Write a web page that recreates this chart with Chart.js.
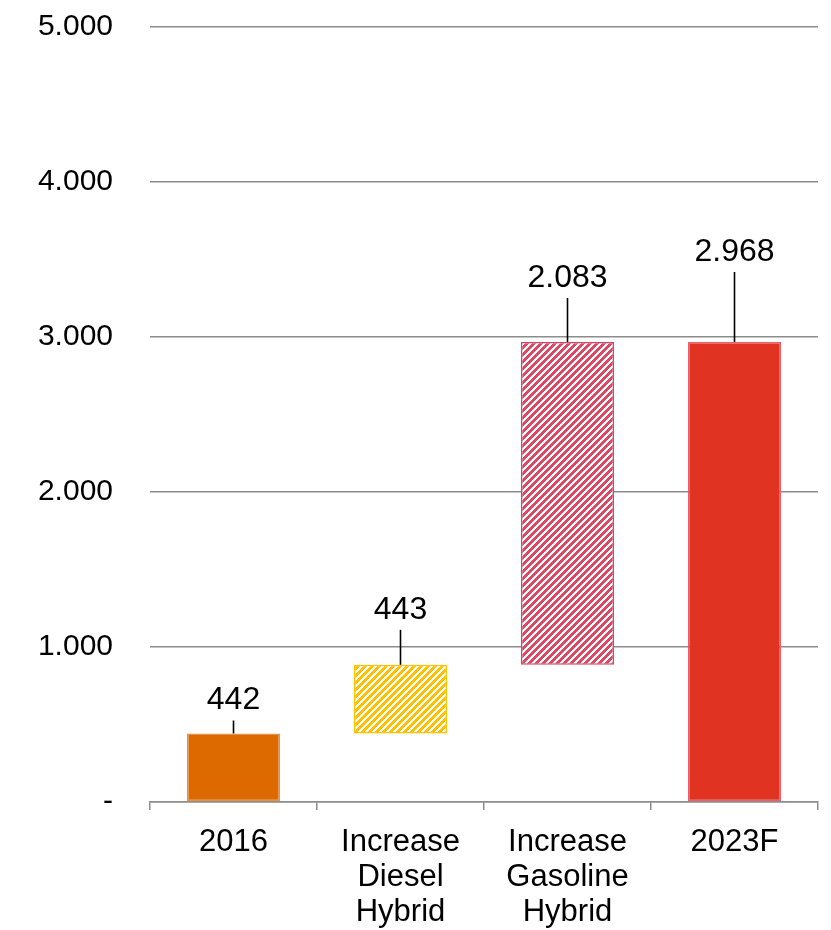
<!DOCTYPE html>
<html>
<head>
<meta charset="utf-8">
<script src="https://cdn.jsdelivr.net/npm/chart.js@4/dist/chart.umd.min.js"></script>
<style>
  html, body { margin: 0; padding: 0; background: #fff; }
  #wrap { width: 831px; height: 930px; position: relative; }
</style>
</head>
<body>
<div id="wrap"><canvas id="chart"></canvas></div>
<script>
// Waterfall: 2016 volume, two increases, 2023 forecast
const categories = [['2016'], ['Increase', 'Diesel', 'Hybrid'], ['Increase', 'Gasoline', 'Hybrid'], ['2023F']];
const values = [442, 443, 2083, 2968];
const barKinds = ['total', 'step', 'step', 'total'];
const yTicks = [0, 1000, 2000, 3000, 4000, 5000];

// Leader line length above each bar (px)
const leaderLengths = [13, 35, 44, 70];

function fmt(n) {
  return String(Math.round(n)).replace(/\B(?=(\d{3})+(?!\d))/g, '.');
}

// Floating ranges: totals start at zero, steps start at the running total
const ranges = [];
let running = 0;
values.forEach((v, i) => {
  if (barKinds[i] === 'total') {
    ranges.push([0, v]);
    running = v;
  } else {
    ranges.push([running, running + v]);
    running += v;
  }
});

function hatch(color) {
  const size = 7;
  const c = document.createElement('canvas');
  c.width = size; c.height = size;
  const g = c.getContext('2d');
  g.fillStyle = '#ffffff';
  g.fillRect(0, 0, size, size);
  g.fillStyle = color;
  for (let y = 0; y < size; y++) {
    for (let k = 0; k < 4; k++) {
      const x = ((size - y + k) % size + size) % size;
      g.fillRect(x, y, 1, 1);
    }
  }
  return g.createPattern(c, 'repeat');
}

const fills = ['#DD6A00', hatch('#FFC000'), hatch('#DE4862'), '#E03322'];
const borders = ['#E8914A', '#FFC000', '#D84560', '#E8606A'];

const FONT = '"Liberation Sans", Arial, sans-serif';
Chart.defaults.font.family = FONT;
Chart.defaults.font.size = 31;
Chart.defaults.color = '#000';

const valueLabels = {
  id: 'valueLabels',
  afterDatasetsDraw(chart) {
    const ctx = chart.ctx;
    const meta = chart.getDatasetMeta(0);
    ctx.save();
    meta.data.forEach((bar, i) => {
      const top = Math.min(bar.y, bar.base);
      const len = leaderLengths[i];
      ctx.strokeStyle = '#000';
      ctx.lineWidth = 1.6;
      ctx.beginPath();
      ctx.moveTo(bar.x, top);
      ctx.lineTo(bar.x, top - len);
      ctx.stroke();
      ctx.fillStyle = '#000';
      ctx.font = '32px ' + FONT;
      ctx.textAlign = 'center';
      ctx.textBaseline = 'alphabetic';
      ctx.fillText(fmt(values[i]), bar.x, top - len - 11);
    });
    ctx.restore();
  }
};

new Chart(document.getElementById('chart'), {
  type: 'bar',
  data: {
    labels: categories,
    datasets: [{
      data: ranges,
      backgroundColor: fills,
      borderColor: borders,
      borderWidth: 1.5,
      borderSkipped: false,
      barPercentage: 0.557,
      categoryPercentage: 1
    }]
  },
  options: {
    responsive: true,
    maintainAspectRatio: false,
    animation: false,
    layout: { padding: { left: 0, top: 27, right: 13, bottom: 0 } },
    plugins: { legend: { display: false }, tooltip: { enabled: false } },
    scales: {
      x: {
        offset: true,
        grid: {
          offset: true,
          drawOnChartArea: false,
          drawTicks: true,
          tickLength: 8,
          color: '#8c8c8c',
          lineWidth: 1.5
        },
        border: { display: true, color: '#8c8c8c', width: 1.5 },
        ticks: { padding: 15, maxRotation: 0, autoSkip: false, font: { size: 31, lineHeight: 1.13 } },
        afterFit(scale) { scale.height = 128; }
      },
      y: {
        min: 0,
        max: 5000,
        afterBuildTicks(scale) { scale.ticks = yTicks.map(v => ({ value: v })); },
        grid: { color: '#8c8c8c', lineWidth: 1.5, drawTicks: false },
        border: { display: false },
        ticks: {
          padding: 37,
          callback: v => (v === 0 ? '-' : fmt(v)),
          font: { size: 30 }
        },
        afterFit(scale) {
          scale.width = 150;
          scale.paddingTop = 0;
          scale.paddingBottom = 0;
        }
      }
    }
  },
  plugins: [valueLabels]
});
</script>
</body>
</html>
